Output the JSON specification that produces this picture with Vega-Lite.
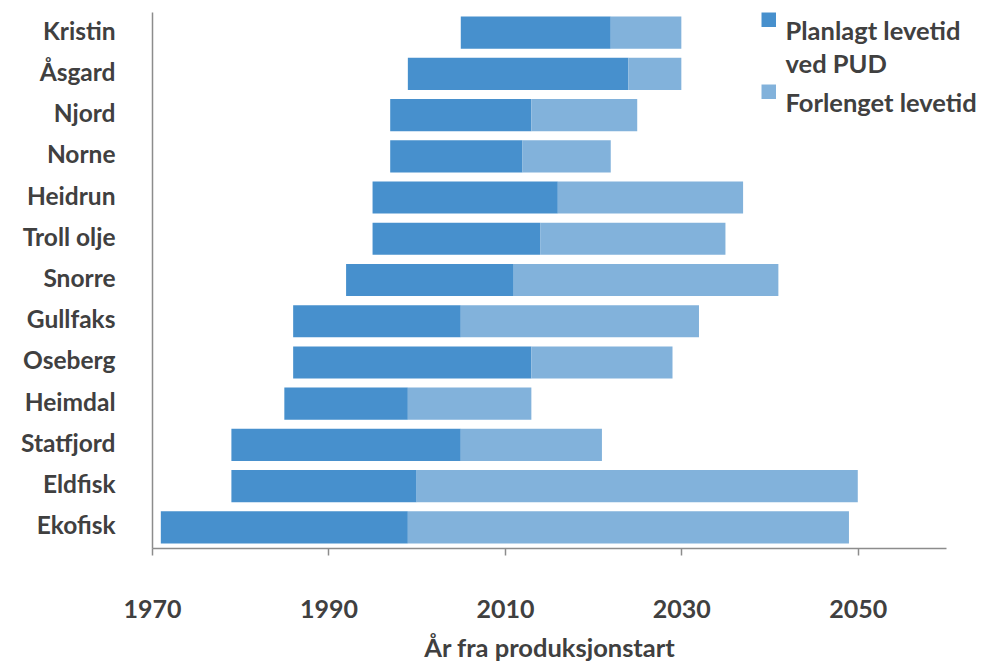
{
  "$schema": "https://vega.github.io/schema/vega-lite/v6.json",
  "width": 794,
  "height": 536,
  "autosize": {"type": "none"},
  "padding": {"left": 152, "top": 12, "right": 44, "bottom": 116},
  "background": "white",
  "config": {
    "view": {"stroke": null},
    "font": "Lato",
    "style": {"guide-label": {"lineHeight": 33}},
    "axis": {"labelFont": "Lato", "titleFont": "Lato", "labelColor": "#404040", "titleColor": "#404040", "domainColor": "#8c8c8c", "tickColor": "#8c8c8c", "grid": false}
  },
  "data": {
    "values": [
      {"felt": "Kristin", "type": "Planlagt levetid ved PUD", "start": 2005, "slutt": 2022},
      {"felt": "Kristin", "type": "Forlenget levetid", "start": 2022, "slutt": 2030},
      {"felt": "Åsgard", "type": "Planlagt levetid ved PUD", "start": 1999, "slutt": 2024},
      {"felt": "Åsgard", "type": "Forlenget levetid", "start": 2024, "slutt": 2030},
      {"felt": "Njord", "type": "Planlagt levetid ved PUD", "start": 1997, "slutt": 2013},
      {"felt": "Njord", "type": "Forlenget levetid", "start": 2013, "slutt": 2025},
      {"felt": "Norne", "type": "Planlagt levetid ved PUD", "start": 1997, "slutt": 2012},
      {"felt": "Norne", "type": "Forlenget levetid", "start": 2012, "slutt": 2022},
      {"felt": "Heidrun", "type": "Planlagt levetid ved PUD", "start": 1995, "slutt": 2016},
      {"felt": "Heidrun", "type": "Forlenget levetid", "start": 2016, "slutt": 2037},
      {"felt": "Troll olje", "type": "Planlagt levetid ved PUD", "start": 1995, "slutt": 2014},
      {"felt": "Troll olje", "type": "Forlenget levetid", "start": 2014, "slutt": 2035},
      {"felt": "Snorre", "type": "Planlagt levetid ved PUD", "start": 1992, "slutt": 2011},
      {"felt": "Snorre", "type": "Forlenget levetid", "start": 2011, "slutt": 2041},
      {"felt": "Gullfaks", "type": "Planlagt levetid ved PUD", "start": 1986, "slutt": 2005},
      {"felt": "Gullfaks", "type": "Forlenget levetid", "start": 2005, "slutt": 2032},
      {"felt": "Oseberg", "type": "Planlagt levetid ved PUD", "start": 1986, "slutt": 2013},
      {"felt": "Oseberg", "type": "Forlenget levetid", "start": 2013, "slutt": 2029},
      {"felt": "Heimdal", "type": "Planlagt levetid ved PUD", "start": 1985, "slutt": 1999},
      {"felt": "Heimdal", "type": "Forlenget levetid", "start": 1999, "slutt": 2013},
      {"felt": "Statfjord", "type": "Planlagt levetid ved PUD", "start": 1979, "slutt": 2005},
      {"felt": "Statfjord", "type": "Forlenget levetid", "start": 2005, "slutt": 2021},
      {"felt": "Eldfisk", "type": "Planlagt levetid ved PUD", "start": 1979, "slutt": 2000},
      {"felt": "Eldfisk", "type": "Forlenget levetid", "start": 2000, "slutt": 2050},
      {"felt": "Ekofisk", "type": "Planlagt levetid ved PUD", "start": 1971, "slutt": 1999},
      {"felt": "Ekofisk", "type": "Forlenget levetid", "start": 1999, "slutt": 2049}
    ]
  },
  "mark": {"type": "bar"},
  "encoding": {
    "y": {
      "field": "felt",
      "type": "nominal",
      "sort": ["Kristin", "Åsgard", "Njord", "Norne", "Heidrun", "Troll olje", "Snorre", "Gullfaks", "Oseberg", "Heimdal", "Statfjord", "Eldfisk", "Ekofisk"],
      "scale": {"paddingInner": 0.22, "paddingOuter": 0.11},
      "axis": {"title": null, "ticks": false, "labelPadding": 37, "labelFontSize": 24.5, "labelFontWeight": "bold", "domainWidth": 1.5}
    },
    "x": {
      "field": "start",
      "type": "quantitative",
      "scale": {"domain": [1970, 2060], "nice": false, "zero": false},
      "axis": {"title": "År fra produksjonstart", "values": [1970, 1990, 2010, 2030, 2050], "format": "d", "labelFlush": false, "tickSize": 7, "labelPadding": 42, "labelFontSize": 25, "labelFontWeight": "bold", "titleFontSize": 25.5, "titleFontWeight": "bold", "titlePadding": 14, "domainWidth": 1.5, "tickWidth": 1.5}
    },
    "x2": {"field": "slutt"},
    "color": {
      "field": "type",
      "type": "nominal",
      "sort": ["Planlagt levetid ved PUD", "Forlenget levetid"],
      "scale": {"domain": ["Planlagt levetid ved PUD", "Forlenget levetid"], "range": ["#4790cd", "#82b2db"]},
      "legend": {
        "title": null,
        "orient": "none",
        "legendX": 604,
        "legendY": -5,
        "symbolType": "square",
        "symbolSize": 210,
        "symbolOpacity": 1,
        "labelFontSize": 25.5,
        "labelFontWeight": "bold",
        "labelColor": "#404040",
        "labelBaseline": "top",
        "labelLimit": 300,
        "rowPadding": -12,
        "labelExpr": "datum.label == 'Planlagt levetid ved PUD' ? ['Planlagt levetid', 'ved PUD'] : datum.label"
      }
    }
  }
}
